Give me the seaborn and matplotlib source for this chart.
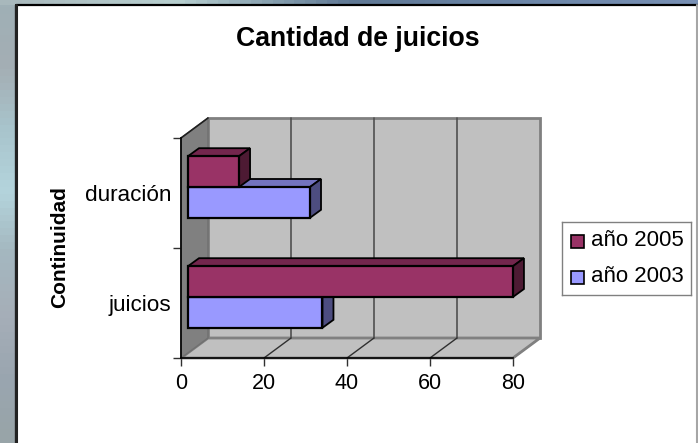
import numpy as np
import pandas as pd
import matplotlib
matplotlib.use('Agg')
import matplotlib.pyplot as plt
import seaborn as sns
from matplotlib.colors import LinearSegmentedColormap
from matplotlib.patches import Polygon, Rectangle
from matplotlib.transforms import Affine2D

# datos
categorias = ['duración', 'juicios']
anio_2005 = [12.3, 78.3]
anio_2003 = [29.4, 32.4]
ticks_x = [0, 20, 40, 60, 80]

df = pd.DataFrame({
    'categoria': categorias * 2,
    'valor': anio_2005 + anio_2003,
    'serie': ['año 2005'] * 2 + ['año 2003'] * 2,
})

colores = {'año 2005': '#993366', 'año 2003': '#9999ff'}
laterales = {'año 2005': '#4d1a33', 'año 2003': '#4d4d80'}
tapas = {'año 2005': '#73264d', 'año 2003': '#7373bf'}

W, H = 698, 443
sns.set_theme(style='white')
plt.rcParams['font.family'] = ['Liberation Sans', 'DejaVu Sans']

fig = plt.figure(figsize=(W / 100, H / 100), dpi=100)

# fondo de la diapositiva
fondo = fig.add_axes([0, 0, 1, 1], zorder=0)
fondo.axis('off')
izq = LinearSegmentedColormap.from_list('izq', ['#9fb0b6', '#a4aeb4', '#a8c4cc', '#b4d4dc',
                                               '#a4b8c0', '#a6aeb8', '#9aa6b0', '#98a4a8'])
fondo.imshow(np.linspace(0, 1, 64).reshape(-1, 1), cmap=izq, aspect='auto', extent=[0, W, H, 0])
arriba = LinearSegmentedColormap.from_list('arr', ['#a8b8bc', '#b8d0d0', '#5f7894', '#6c86a8', '#7890b4'])
fondo.imshow(np.linspace(0, 1, 64).reshape(1, -1), cmap=arriba, aspect='auto', extent=[0, W, 5, 0])
fondo.set_xlim(0, W)
fondo.set_ylim(H, 0)
fondo.add_patch(Rectangle((16, 5), W - 16, H - 5, fc='white', ec='none'))
fondo.plot([16, 16, W], [H, 4.5, 4.5], color='black', lw=1.6, solid_capstyle='butt')
fondo.plot([16, 16], [5, H], color='#222222', lw=2.2)
fondo.plot([696.5, 696.5], [5, H], color='#a6a6a6', lw=1.5)

ax = fig.add_axes([181 / W, (H - 358) / H, 332 / W, 220 / H], zorder=1)
ax.patch.set_alpha(0)

sns.barplot(data=df, y='categoria', x='valor', hue='serie', order=categorias,
            hue_order=['año 2005', 'año 2003'], palette=colores, width=0.56,
            saturation=1, edgecolor='black', linewidth=1.6, ax=ax, legend=False)
ax.set_xlim(0, 80)
ax.set_ylim(1.5, -0.5)


def plano(dx, dy):
    return ax.transData + Affine2D().translate(dx, dy)


fondo_3d = plano(27, 20)
ax.add_patch(Polygon([(0, -0.5), (80, -0.5), (80, 1.5), (0, 1.5)], closed=True, fc='#c0c0c0',
                     ec='#808080', lw=2, transform=fondo_3d, zorder=0.5, clip_on=False))
# suelo y pared izquierda
piso = [ax.transData.transform(p) for p in [(0, 1.5), (80, 1.5)]]
px2 = ax.transData.inverted()
suelo = [(0, 1.5), (80, 1.5), px2.transform(piso[1] + (27, 20)), px2.transform(piso[0] + (27, 20))]
ax.add_patch(Polygon(suelo, closed=True, fc='#c0c0c0', ec='#808080', lw=2, zorder=0.6, clip_on=False))
t_izq = ax.transData.transform((0, -0.5))
pared = [(0, 1.5), (0, -0.5), px2.transform(t_izq + (27, 20)), px2.transform(piso[0] + (27, 20))]
ax.add_patch(Polygon(pared, closed=True, fc='#808080', ec='#707070', lw=1, zorder=0.7, clip_on=False))

# rejilla en la pared del fondo y en el suelo
for t in ticks_x[1:-1]:
    ax.plot([t, t], [-0.5, 1.5], color='#505050', lw=1.2, transform=fondo_3d, zorder=0.8, clip_on=False)
for t in ticks_x[1:]:
    base = ax.transData.transform((t, 1.5))
    ax.plot(*zip((t, 1.5), px2.transform(base + (27, 20))),
            color='#303030' if t < 80 else '#808080', lw=1, zorder=0.9, clip_on=False)
ax.plot(*zip((0, -0.5), px2.transform(t_izq + (27, 20))), color='#202020', lw=1.2, zorder=0.9, clip_on=False)

# barras en 3D: la cara frontal se corre y se agregan lado y tapa
dx_bar, dy_bar = 7, 6
prof_x, prof_y = 11, 8
series = ['año 2005'] * 2 + ['año 2003'] * 2
caras = [p for p in ax.patches if isinstance(p, Rectangle)][:4]
movida = plano(dx_bar, dy_bar)
for cara, serie in zip(caras, series):
    x0, y0, ancho, alto = cara.get_x(), cara.get_y(), cara.get_width(), cara.get_height()
    z = 3 if serie == 'año 2003' else 4
    cara.set_transform(movida)
    cara.set_zorder(z + 0.2)
    cara.set_clip_on(False)
    a = ax.transData.transform((x0, y0))  # arriba izquierda
    b = ax.transData.transform((x0 + ancho, y0))  # arriba derecha
    c = ax.transData.transform((x0 + ancho, y0 + alto))  # abajo derecha
    d = np.array([prof_x, prof_y])
    tapa = [px2.transform(q) for q in (a, b, b + d, a + d)]
    lado = [px2.transform(q) for q in (b, c, c + d, b + d)]
    ax.add_patch(Polygon(tapa, closed=True, fc=tapas[serie], ec='black', lw=1.3, transform=movida,
                         zorder=z, clip_on=False))
    ax.add_patch(Polygon(lado, closed=True, fc=laterales[serie], ec='black', lw=1.3, transform=movida,
                         zorder=z + 0.1, clip_on=False))

# ejes
for lado_eje in ['top', 'right']:
    ax.spines[lado_eje].set_visible(False)
for lado_eje in ['left', 'bottom']:
    ax.spines[lado_eje].set_visible(True)
    ax.spines[lado_eje].set_color('black')
    ax.spines[lado_eje].set_linewidth(1.2)
    ax.spines[lado_eje].set_zorder(5)
ax.set_xticks(ticks_x)
ax.set_yticks([-0.5, 0.5, 1.5], minor=True)
ax.tick_params(axis='x', which='major', bottom=True, length=6, width=1, color='#303030',
               labelsize=15.5, pad=5, labelcolor='black')
ax.tick_params(axis='y', which='minor', left=True, length=6, width=1, color='#303030')
ax.tick_params(axis='y', which='major', left=False, length=0, labelsize=16.2, pad=7, labelcolor='black')
ax.set_xlabel('')
ax.set_ylabel('')

fig.text(358 / W, 1 - 39 / H, 'Cantidad de juicios', ha='center', va='center',
         fontsize=19.2, fontweight='bold', color='black')
fig.text(60 / W, 1 - 247 / H, 'Continuidad', rotation=90, ha='center', va='center',
         fontsize=15, fontweight='bold', color='black')

# leyenda
leg = fig.add_axes([562 / W, (H - 295) / H, 129 / W, 73 / H], zorder=2)
leg.set_xlim(562, 691)
leg.set_ylim(295, 222)
leg.set_xticks([])
leg.set_yticks([])
for s in leg.spines.values():
    s.set_color('#808080')
    s.set_linewidth(1)
    s.set_visible(True)
for serie, yc in zip(['año 2005', 'año 2003'], [241, 277]):
    leg.add_patch(Rectangle((571, yc - 6.5), 13, 13, fc=colores[serie], ec='black', lw=1.2))
    leg.text(591, yc - 1, serie, fontsize=16, va='center', ha='left', color='black')

fig.savefig('out.png', dpi=100)
